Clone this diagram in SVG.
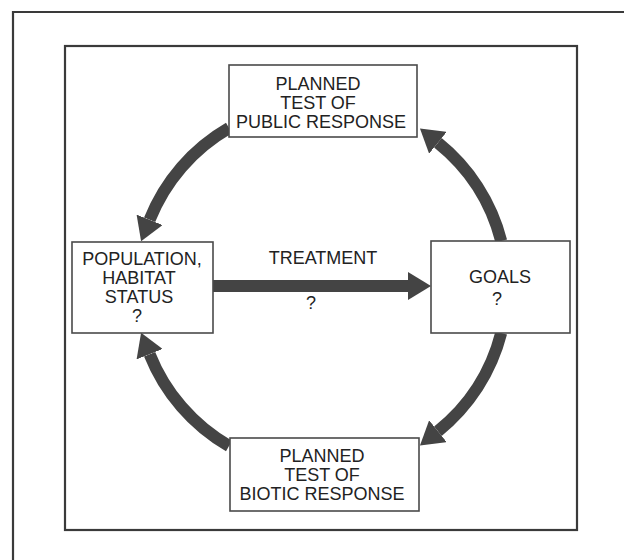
<svg xmlns="http://www.w3.org/2000/svg" width="624" height="560" viewBox="0 0 624 560">
<defs>
<style>
.frame{fill:none;stroke:#3a3a3a;stroke-width:2.2}
.box{fill:#fff;stroke:#4a4a4a;stroke-width:1.6}
.t{font-family:"Liberation Sans",Arial,sans-serif;font-size:18px;fill:#222;text-anchor:middle}
.arc{fill:none;stroke:#444;stroke-width:12;marker-end:url(#head)}
</style>
<marker id="head" markerUnits="userSpaceOnUse" markerWidth="23" markerHeight="28" viewBox="0 0 23 28" refX="0" refY="14" orient="auto">
<path d="M0,0 L23,14 L0,28 Z" fill="#444"/>
</marker>
</defs>
<rect width="624" height="560" fill="#fff"/>
<path class="frame" d="M13,560 V12 H624"/>
<rect class="frame" x="65" y="46" width="512" height="484"/>
<g id="connectors">
<path class="arc" d="M229,128 A185,185 0 0,0 149.6,219.8"/>
<path class="arc" d="M501.2,241 A185,185 0 0,0 437.9,142.8"/>
<path class="arc" d="M501.2,333 A185,185 0 0,1 437.9,431.2"/>
<path class="arc" d="M229,446 A185,185 0 0,1 149.6,354.2"/>
<path class="arc" d="M213,286 H408"/>
<text class="t" x="323" y="264">TREATMENT</text>
<text class="t" x="311" y="309">?</text>
</g>
<g id="public">
<rect class="box" x="229" y="65" width="188" height="72"/>
<text class="t" x="318" y="90">PLANNED</text>
<text class="t" x="318" y="109">TEST OF</text>
<text class="t" x="321" y="128">PUBLIC RESPONSE</text>
</g>
<g id="population">
<rect class="box" x="72" y="242" width="141" height="91"/>
<text class="t" x="142" y="265">POPULATION,</text>
<text class="t" x="139" y="284">HABITAT</text>
<text class="t" x="139" y="303">STATUS</text>
<text class="t" x="137" y="322">?</text>
</g>
<g id="goals">
<rect class="box" x="431" y="241" width="139" height="92"/>
<text class="t" x="500" y="283">GOALS</text>
<text class="t" x="497" y="305">?</text>
</g>
<g id="biotic">
<rect class="box" x="230" y="438" width="189" height="73"/>
<text class="t" x="322" y="462">PLANNED</text>
<text class="t" x="322" y="481">TEST OF</text>
<text class="t" x="322" y="500">BIOTIC RESPONSE</text>
</g>
</svg>
